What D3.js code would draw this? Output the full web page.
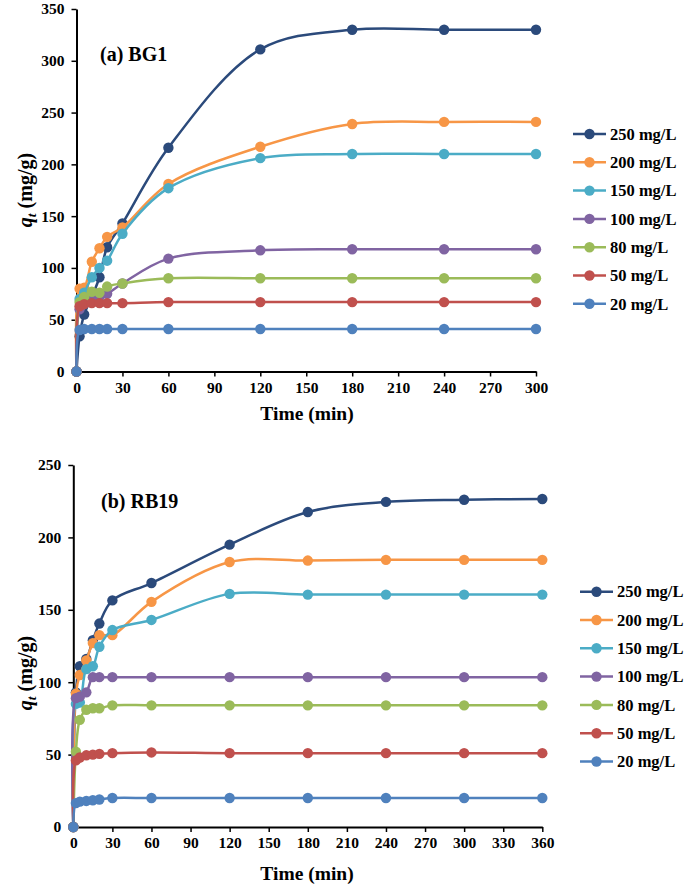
<!DOCTYPE html>
<html>
<head>
<meta charset="utf-8">
<script src="https://cdn.jsdelivr.net/npm/d3@7"></script>
<style>
  html, body { margin: 0; padding: 0; background: #fff; }
  svg { display: block; }
  text { font-family: "Liberation Serif", "Times New Roman", serif; font-weight: bold; fill: #000; }
</style>
</head>
<body>
<svg id="chart" width="685" height="887"></svg>
<script>
// ---------- DATA ----------
const seriesNames = ["250 mg/L", "200 mg/L", "150 mg/L", "100 mg/L", "80 mg/L", "50 mg/L", "20 mg/L"];
const seriesColors = ["#2B4A7B", "#F79646", "#4BACC6", "#8064A2", "#9BBB59", "#C0504D", "#4F81BD"];

// (a) BG1
const timesA = [0, 2, 5, 10, 15, 20, 30, 60, 120, 180, 240, 300];
const bg1_250 = [0, 34, 55, 72, 91, 120, 143, 216, 311, 330, 330, 330];
const bg1_200 = [0, 80, 81, 106, 119, 130, 139, 181, 217, 239, 241, 241];
const bg1_150 = [0, 70, 76, 91, 100, 107, 133, 177, 206, 210, 210, 210];
const bg1_100 = [0, 60, 66, 70, 72, 75, 85, 109, 117, 118, 118, 118];
const bg1_80  = [0, 67, 72, 77, 76, 82, 85, 90, 90, 90, 90, 90];
const bg1_50  = [0, 63, 65, 66, 66, 66, 66, 67, 67, 67, 67, 67];
const bg1_20  = [0, 40, 41, 41, 41, 41, 41, 41, 41, 41, 41, 41];
const xTicksA = [0, 30, 60, 90, 120, 150, 180, 210, 240, 270, 300];
const yTicksA = [0, 50, 100, 150, 200, 250, 300, 350];

// (b) RB19
const timesB = [0, 2, 5, 10, 15, 20, 30, 60, 120, 180, 240, 300, 360];
const rb19_250 = [0, 93, 111, 116, 129, 140.5, 156.5, 168.5, 195, 217.5, 224.5, 226, 226.5];
const rb19_200 = [0, 92, 105, 115, 127, 132.5, 132.5, 155.5, 183, 184, 184.5, 184.5, 184.5];
const rb19_150 = [0, 85, 86, 109, 111, 124.5, 136, 143, 161, 160.5, 160.5, 160.5, 160.5];
const rb19_100 = [0, 89, 90, 93, 103.5, 103.5, 103.5, 103.5, 103.5, 103.5, 103.5, 103.5, 103.5];
const rb19_80  = [0, 52, 74, 81, 82, 82, 84, 84, 84, 84, 84, 84, 84];
const rb19_50  = [0, 46, 48, 49.5, 50, 50.5, 51, 51.5, 51, 51, 51, 51, 51];
const rb19_20  = [0, 16.5, 17.5, 18, 18.5, 19, 20, 20, 20, 20, 20, 20, 20];
const xTicksB = [0, 30, 60, 90, 120, 150, 180, 210, 240, 270, 300, 330, 360];
const yTicksB = [0, 50, 100, 150, 200, 250];

// ---------- DRAW ----------
const svg = d3.select("#chart");

function panel(cfg) {
  const x = d3.scaleLinear().domain(cfg.xDomain).range([cfg.left, cfg.right]);
  const y = d3.scaleLinear().domain(cfg.yDomain).range([cfg.bottom, cfg.top]);
  const g = svg.append("g");

  // axes
  const xAxis = d3.axisBottom(x).tickValues(cfg.xTicks).tickSize(5).tickSizeOuter(0).tickPadding(5);
  const gx = g.append("g").attr("transform", `translate(0,${cfg.bottom})`).call(xAxis);
  const yAxis = d3.axisLeft(y).tickValues(cfg.yTicks).tickSize(5).tickSizeOuter(0).tickPadding(7);
  const gy = g.append("g").attr("transform", `translate(${cfg.left},0)`).call(yAxis);
  [gx, gy].forEach(a => {
    a.selectAll("path.domain").attr("stroke", "#000").attr("stroke-width", 2);
    a.selectAll(".tick line").attr("stroke", "#000").attr("stroke-width", 1.5);
    a.selectAll(".tick text").style("font-family", '"Liberation Serif", serif')
      .style("font-weight", "bold").style("font-size", "15.5px").attr("fill", "#000");
  });

  // series
  const line = d3.line().x(d => x(d[0])).y(d => y(d[1])).curve(d3.curveCatmullRom.alpha(0.5));
  cfg.series.forEach((vals, i) => {
    const pts = cfg.times.map((t, k) => [t, vals[k]]);
    g.append("path").datum(pts).attr("d", line)
      .attr("fill", "none").attr("stroke", seriesColors[i]).attr("stroke-width", 2.5);
    g.selectAll(null).data(pts).enter().append("circle")
      .attr("cx", d => x(d[0])).attr("cy", d => y(d[1])).attr("r", 5.2)
      .attr("fill", seriesColors[i]);
  });

  // title
  g.append("text").attr("x", cfg.titleX).attr("y", cfg.titleY)
    .style("font-size", "20px").text(cfg.title);

  // x label
  g.append("text").attr("x", cfg.xLabelX).attr("y", cfg.xLabelY).attr("text-anchor", "middle")
    .style("font-size", "19.5px").text("Time (min)");

  // y label
  const yl = g.append("text").attr("transform", `translate(${cfg.yLabelX},${cfg.yLabelY}) rotate(-90)`)
    .attr("text-anchor", "middle").style("font-size", "20px");
  yl.append("tspan").style("font-style", "italic").text("q");
  yl.append("tspan").style("font-style", "italic").style("font-size", "13.5px").attr("dy", 4).text("t");
  yl.append("tspan").attr("dy", -4).text(" (mg/g)");

  // legend
  const lg = g.append("g");
  seriesNames.forEach((name, i) => {
    const yy = cfg.legY + i * cfg.legStep;
    lg.append("line").attr("x1", cfg.legX).attr("x2", cfg.legX + 33).attr("y1", yy).attr("y2", yy)
      .attr("stroke", seriesColors[i]).attr("stroke-width", 2.5);
    lg.append("circle").attr("cx", cfg.legX + 16.5).attr("cy", yy).attr("r", 5.2).attr("fill", seriesColors[i]);
    lg.append("text").attr("x", cfg.legX + 37).attr("y", yy).attr("dy", "0.35em")
      .style("font-size", "16.5px").text(name);
  });
}

panel({
  xDomain: [0, 300], yDomain: [0, 350], left: 76.5, right: 536, top: 9, bottom: 371.5,
  xTicks: xTicksA, yTicks: yTicksA, times: timesA,
  series: [bg1_250, bg1_200, bg1_150, bg1_100, bg1_80, bg1_50, bg1_20],
  title: "(a) BG1", titleX: 100, titleY: 61,
  xLabelX: 307, xLabelY: 420, yLabelX: 32, yLabelY: 190,
  legX: 573, legY: 134, legStep: 28.3
});

panel({
  xDomain: [0, 360], yDomain: [0, 250], left: 73.3, right: 542.3, top: 465, bottom: 827,
  xTicks: xTicksB, yTicks: yTicksB, times: timesB,
  series: [rb19_250, rb19_200, rb19_150, rb19_100, rb19_80, rb19_50, rb19_20],
  title: "(b) RB19", titleX: 101, titleY: 508,
  xLabelX: 307, xLabelY: 880, yLabelX: 32, yLabelY: 673,
  legX: 580, legY: 591.7, legStep: 28.3
});
</script>
</body>
</html>
